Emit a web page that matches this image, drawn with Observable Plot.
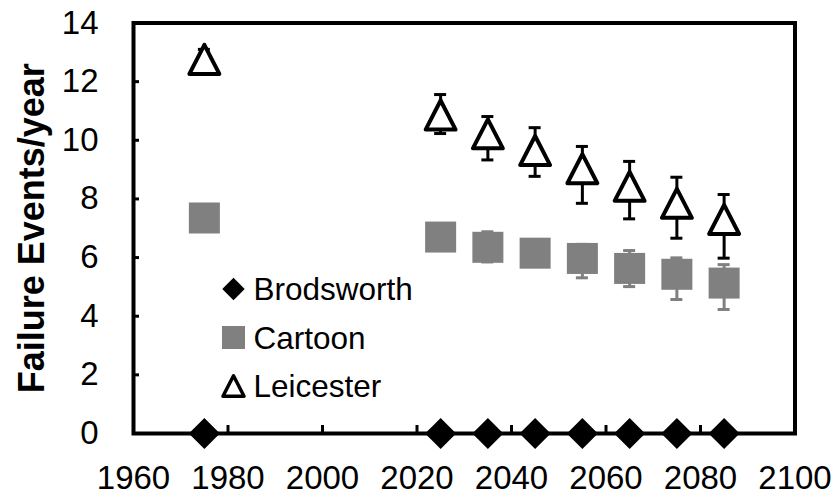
<!DOCTYPE html>
<html><head><meta charset="utf-8">
<script src="https://cdn.jsdelivr.net/npm/d3@7"></script>
<script src="https://cdn.jsdelivr.net/npm/@observablehq/plot@0.6"></script>
<style>
html,body{margin:0;padding:0;background:#fff;}
#chart{width:839px;height:499px;}
</style></head><body><div id="chart"></div>
<script>
const years = [1975, 2025, 2035, 2045, 2055, 2065, 2075, 2085];
const brodsworth = [0, 0, 0, 0, 0, 0, 0, 0];
const cartoon = [7.35, 6.70, 6.35, 6.15, 5.97, 5.63, 5.43, 5.13];
const cartoonLow = [7.15, 6.45, 5.85, 5.85, 5.31, 5.01, 4.57, 4.23];
const cartoonHigh = [7.55, 6.95, 6.88, 6.45, 6.45, 6.24, 5.99, 5.76];
const leicester = [12.76, 10.86, 10.22, 9.65, 9.03, 8.43, 7.85, 7.30];
const leicesterLow = [12.3, 10.23, 9.33, 8.77, 7.85, 7.32, 6.66, 5.98];
const leicesterHigh = [13.1, 11.56, 10.81, 10.43, 9.79, 9.28, 8.74, 8.15];
const seriesNames = ["Brodsworth", "Cartoon", "Leicester"];
const xTicks = [1960, 1980, 2000, 2020, 2040, 2060, 2080, 2100];
const yTicks = [0, 2, 4, 6, 8, 10, 12, 14];
const yTitle = "Failure Events/year";

const FONT = "'Liberation Sans', Arial, sans-serif";
const GRAY = "#808080";

// triangle centered on its bounding box (as Excel draws it)
const triangleBox = {
  draw(ctx, size) {
    const s = Math.sqrt(size);
    const w = s / 2, h = s * 0.97 / 2;
    ctx.moveTo(0, -h); ctx.lineTo(w, h); ctx.lineTo(-w, h); ctx.closePath();
  }
};

const brodRows = years.map((x, i) => ({x, y: brodsworth[i]}));
const cartRows = years.map((x, i) => ({x, y: cartoon[i], lo: cartoonLow[i], hi: cartoonHigh[i]}));
const leicRows = years.map((x, i) => ({x, y: leicester[i], lo: leicesterLow[i], hi: leicesterHigh[i]}));

const legendStyles = [
  {symbol: "diamond2", r: 10.1, fill: "black", stroke: null, strokeWidth: 0},
  {symbol: "square", r: 13.0, fill: GRAY, stroke: null, strokeWidth: 0},
  {symbol: triangleBox, r: 11.9, fill: "white", stroke: "black", strokeWidth: 3.5}
];
const legendMarks = seriesNames.flatMap((name, i) => [
  Plot.dot([name], {frameAnchor: "top-left", dx: 100, dy: 266 + 48.5 * i,
    symbol: legendStyles[i].symbol, r: legendStyles[i].r, fill: legendStyles[i].fill,
    stroke: legendStyles[i].stroke, strokeWidth: legendStyles[i].strokeWidth, strokeLinejoin: "round"}),
  Plot.text([name], {frameAnchor: "top-left", dx: 120, dy: 267 + 48.5 * i, text: d => d,
    textAnchor: "start", lineAnchor: "middle", fontSize: 31.5, fill: "black"})
]);

const errMarks = (rows, color) => [
  Plot.ruleX(rows, {x: "x", y1: "lo", y2: "hi", stroke: color, strokeWidth: 3}),
  Plot.ruleY(rows, {y: "lo", x1: "x", x2: "x", insetLeft: -6, insetRight: -6, stroke: color, strokeWidth: 3}),
  Plot.ruleY(rows, {y: "hi", x1: "x", x2: "x", insetLeft: -6, insetRight: -6, stroke: color, strokeWidth: 3})
];

const chart = Plot.plot({
  width: 839, height: 499,
  marginLeft: 133, marginRight: 44.5, marginTop: 22.5, marginBottom: 66,
  style: {fontFamily: FONT, color: "black", background: "white"},
  x: {domain: [1960, 2100]},
  y: {domain: [0, 14]},
  marks: [
    Plot.axisX({ticks: xTicks, tickSize: -8, tickPadding: 40, fontSize: 33, strokeWidth: 3,
      label: null, tickFormat: d => String(d)}),
    Plot.axisY({ticks: yTicks, tickSize: -6, tickPadding: 41, fontSize: 33, strokeWidth: 3,
      label: null, tickFormat: d => String(d)}),
    Plot.frame({stroke: "black", strokeWidth: 4}),
    Plot.text([yTitle], {frameAnchor: "left", text: d => d, rotate: -90, dx: -90,
      textAnchor: "middle", lineAnchor: "bottom", fontSize: 36, fontWeight: "bold", fill: "black"}),
    ...errMarks(cartRows, GRAY),
    Plot.dot(cartRows, {x: "x", y: "y", symbol: "square", r: 17.5, fill: GRAY}),
    ...errMarks(leicRows, "black"),
    Plot.dot(leicRows, {x: "x", y: "y", symbol: triangleBox, r: 16.9, fill: "white",
      stroke: "black", strokeWidth: 4, strokeLinejoin: "round"}),
    Plot.dot(brodRows, {x: "x", y: "y", symbol: "diamond2", r: 14, fill: "black"}),
    ...legendMarks
  ]
});
document.getElementById("chart").appendChild(chart);
</script>
</body></html>
